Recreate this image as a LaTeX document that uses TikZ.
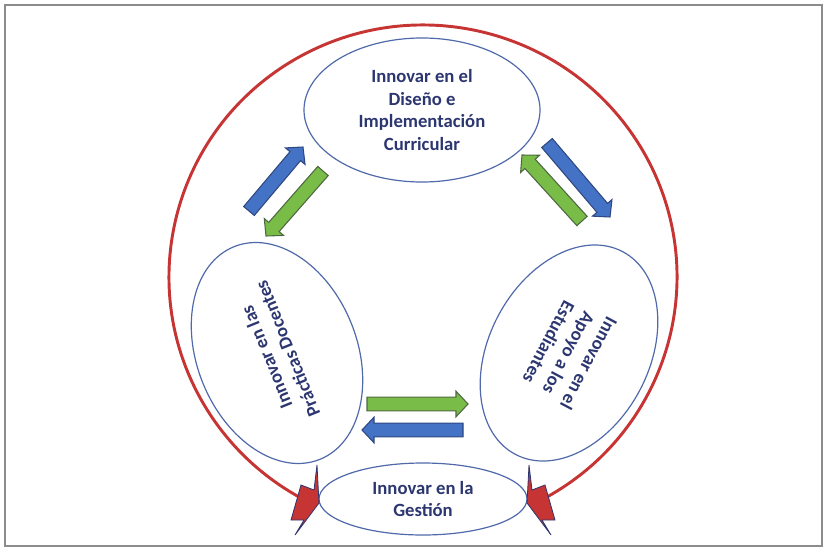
\documentclass[tikz,border=0pt]{standalone}
\usepackage{fontspec}
\setmainfont{Carlito}
\usepackage{tikz}
\usetikzlibrary{calc,shapes.geometric}

\definecolor{ringred}{RGB}{198,52,52}
\definecolor{ellblue}{RGB}{79,105,170}
\definecolor{txtblue}{RGB}{44,54,112}
\definecolor{arrblue}{RGB}{68,114,196}
\definecolor{arrblueline}{RGB}{47,72,130}
\definecolor{arrgreen}{RGB}{122,188,72}
\definecolor{arrgreenline}{RGB}{78,104,66}

% block arrow: fill, outline, tail, tip
\newcommand{\blockarrow}[4]{%
  \coordinate (bahead) at ($(#4)!9pt!(#3)$);
  \filldraw[fill=#1,draw=#2,line width=0.8pt]
    ($(#3)!5.2pt!90:(#4)$) -- ($(bahead)!5.2pt!90:(#4)$)
    -- ($(bahead)!9.6pt!90:(#4)$) -- (#4)
    -- ($(bahead)!9.6pt!-90:(#4)$) -- ($(bahead)!5.2pt!-90:(#4)$)
    -- ($(#3)!5.2pt!-90:(#4)$) -- cycle;
}

\begin{document}
\begin{tikzpicture}[x=0.75pt,y=0.75pt,
  goal/.style={ellipse,draw=ellblue,line width=0.9pt,text=txtblue,
    font=\fontsize{14}{17}\selectfont\bfseries,align=center,inner sep=0pt},
  ring/.style={draw=ringred,line width=2.2pt},
  redarrow/.style={fill=ringred,draw=txtblue,line width=0.6pt,line join=miter},
  boxline/.style={draw=black!45,line width=0.9pt}]
\useasboundingbox (0,0) rectangle (827,551);
\draw[boxline] (5,5) rectangle (822,546);

% the four fields
\node[goal,minimum width=177pt,minimum height=108pt] (diseno) at (422,441)
  {Innovar en el\\Diseño e\\Implementación\\Curricular};
\node[goal,rotate=112,minimum width=172pt,minimum height=120pt] (practicas) at (277,198)
  {Innovar en las\\Prácticas Docentes};
\node[goal,rotate=-118,minimum width=172pt,minimum height=120pt] (apoyo) at (569,198)
  {Innovar en el\\Apoyo a los\\Estudiantes};
\node[goal,minimum width=156pt,minimum height=54pt] (gestion) at (423,52)
  {Innovar en la\\Gestión};

% red ring round everything
\coordinate (ringc) at (423,274);
\draw[ring] ($(ringc)+(-61:254 and 252)$)
  arc[start angle=-61,end angle=241,x radius=254,y radius=252];
\filldraw[redarrow] (301,66) -- (314,61) -- (317,86) -- (319,48)
  -- (295,16) -- (304,31) -- (291,31) -- cycle;
\filldraw[redarrow] (545,66) -- (532,61) -- (529,86) -- (527,48)
  -- (551,16) -- (542,31) -- (555,31) -- cycle;

% exchanges between the fields
\coordinate (pd1) at (249,340); \coordinate (pd2) at (303,404);
\coordinate (dp1) at (323,380); \coordinate (dp2) at (266,315);
\coordinate (da1) at (547,408); \coordinate (da2) at (610,334);
\coordinate (ad1) at (582,330); \coordinate (ad2) at (522,396);
\coordinate (pa1) at (367,147); \coordinate (pa2) at (468,147);
\coordinate (ap1) at (463,121); \coordinate (ap2) at (362,121);
\blockarrow{arrblue}{arrblueline}{pd1}{pd2}
\blockarrow{arrgreen}{arrgreenline}{dp1}{dp2}
\blockarrow{arrblue}{arrblueline}{da1}{da2}
\blockarrow{arrgreen}{arrgreenline}{ad1}{ad2}
\blockarrow{arrgreen}{arrgreenline}{pa1}{pa2}
\blockarrow{arrblue}{arrblueline}{ap1}{ap2}
\end{tikzpicture}
\end{document}
